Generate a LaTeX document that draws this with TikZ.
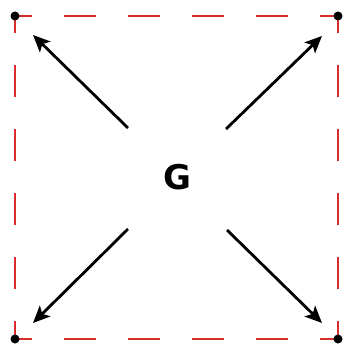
\documentclass[tikz,border=0pt]{standalone}
\usepackage{fontspec}
\setmainfont{DejaVu Sans}
\usetikzlibrary{arrows.meta}
\definecolor{edgered}{RGB}{215,45,45}
\tikzset{
  boxedge/.style={draw=edgered, line width=1.3pt, dash pattern=on 32pt off 32pt, dash phase=15pt},
  cornerdot/.style={fill=black, circle, inner sep=0pt, minimum size=9pt},
  bigarrow/.style={draw=black, line width=2.8pt, -{Stealth[length=17pt,width=15pt,inset=4pt]}},
  label/.style={font=\bfseries\fontsize{34}{34}\selectfont, inner sep=0pt}
}
\begin{document}
\begin{tikzpicture}[x=1pt,y=-1pt]
\useasboundingbox (0,0) rectangle (344,344);
\coordinate (tl) at (15,16);
\coordinate (tr) at (338,16);
\coordinate (bl) at (15,339);
\coordinate (br) at (338,339);
\draw[boxedge] (tl) -- (tr);
\draw[boxedge] (bl) -- (br);
\draw[boxedge] (tl) -- (bl);
\draw[boxedge] (tr) -- (br);
\node[cornerdot] (dtl) at (tl) {};
\node[cornerdot] (dtr) at (tr) {};
\node[cornerdot] (dbl) at (bl) {};
\node[cornerdot] (dbr) at (br) {};
\node[label] (g) at (177,177) {G};
\coordinate (s1) at (128,128);
\coordinate (s2) at (226,129);
\coordinate (s3) at (128,229);
\coordinate (s4) at (227,230);
\coordinate (t1) at (33,35);
\coordinate (t2) at (322,36);
\coordinate (t3) at (33,323);
\coordinate (t4) at (322,323);
\draw[bigarrow] (s1) -- (t1);
\draw[bigarrow] (s2) -- (t2);
\draw[bigarrow] (s3) -- (t3);
\draw[bigarrow] (s4) -- (t4);
\end{tikzpicture}
\end{document}
